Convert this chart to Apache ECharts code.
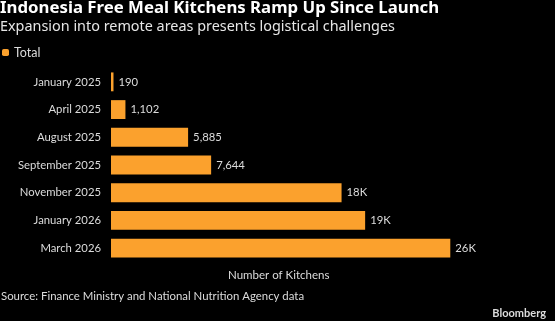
<!DOCTYPE html>
<html>
<head>
<meta charset="utf-8">
<script src="https://cdn.jsdelivr.net/npm/echarts@6/dist/echarts.min.js"></script>
<style>
  html, body { margin: 0; padding: 0; background: #000; }
  #chart { width: 555px; height: 321px; }
</style>
</head>
<body>
<div id="chart"></div>
<script>
// Kitchen counts by month
const categories = ['January 2025', 'April 2025', 'August 2025', 'September 2025', 'November 2025', 'January 2026', 'March 2026'];
const totals = [190, 1102, 5885, 7644, 17600, 19400, 25900];
const seriesName = 'Total';

const FONT = '"Noto Sans", sans-serif';
const SMALL = 'Lato, sans-serif';
const ORANGE = '#fba12d';
const GREY = '#dcdcdc';

function fmt(v) {
  if (v >= 10000) return Math.round(v / 1000) + 'K';
  return v.toLocaleString('en-US');
}

const chart = echarts.init(document.getElementById('chart'));
chart.setOption({
  backgroundColor: '#000',
  animation: false,
  textStyle: { fontFamily: SMALL },
  title: [
    { text: 'Indonesia Free Meal Kitchens Ramp Up Since Launch', left: 0, top: 0, padding: 0,
      textStyle: { color: '#fff', fontSize: 16.8, fontWeight: 'bold', fontFamily: FONT } },
    { text: 'Expansion into remote areas presents logistical challenges', left: 0, top: 20, padding: 0,
      textStyle: { color: '#e6e6e6', fontSize: 14.4, fontWeight: 'normal', fontFamily: FONT } },
    { text: 'Source: Finance Ministry and National Nutrition Agency data', left: 1, top: 291, padding: 0,
      textStyle: { color: GREY, fontSize: 11.4, fontWeight: 'normal', fontFamily: SMALL } },
    { text: 'Bloomberg', right: 9, top: 308, padding: 0,
      textStyle: { color: GREY, fontSize: 11, fontWeight: 'bold', fontFamily: SMALL } }
  ],
  legend: {
    left: 2, top: 46, padding: 0, itemWidth: 7, itemHeight: 7, itemGap: 7,
    icon: 'roundRect',
    textStyle: { color: GREY, fontSize: 12.5, fontFamily: SMALL, padding: [0, 0, 0, 0] },
    data: [seriesName]
  },
  graphic: [
    { type: 'text', x: 228, y: 269,
      style: { text: 'Number of Kitchens', fill: GREY, font: '11.5px ' + SMALL } }
  ],
  grid: { left: 111, right: 51, top: 68, bottom: 59, containLabel: false },
  xAxis: {
    type: 'value', min: 0, max: 30000,
    axisLine: { show: false }, axisTick: { show: false },
    axisLabel: { show: false }, splitLine: { show: false }
  },
  yAxis: {
    type: 'category', inverse: true, data: categories,
    axisLine: { show: false }, axisTick: { show: false },
    axisLabel: { color: GREY, fontSize: 11.3, margin: 10, fontFamily: SMALL }
  },
  series: [{
    name: seriesName, type: 'bar', data: totals,
    itemStyle: { color: ORANGE },
    barCategoryGap: '32%',
    label: {
      show: true, position: 'right', distance: 5,
      color: GREY, fontSize: 11.3, fontFamily: SMALL,
      formatter: p => fmt(p.value)
    }
  }]
});
</script>
</body>
</html>
